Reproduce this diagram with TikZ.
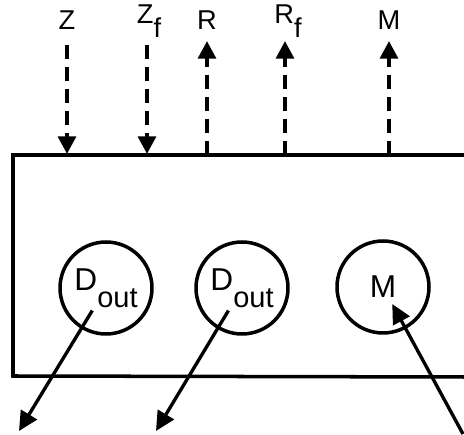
\documentclass[tikz,border=0pt]{standalone}
\usepackage{fontspec}
\setmainfont{Liberation Sans}
\usetikzlibrary{arrows.meta}
\newcommand{\lo}[1]{\raisebox{-1ex}{#1}}
\tikzset{
  sig/.style={font=\fontsize{15.5}{18}\selectfont, inner sep=1pt},
  port/.style={circle, draw, line width=2pt, minimum size=1.84cm, inner sep=0pt, font=\fontsize{18}{21}\selectfont},
  dtra/.style={-{Triangle[length=10pt, width=10pt]}, line width=2.3pt, dash pattern=on 8pt off 4.5pt},
  stra/.style={-{Triangle[length=11pt, width=10.5pt]}, line width=1.9pt},
  frame/.style={line width=2pt}
}

\begin{document}
\begin{tikzpicture}[x=0.02cm, y=-0.02cm]
		\useasboundingbox (0,0) rectangle (464,435);
		% the box, open to the right
		\draw[frame] (464,155) -- (13,155) -- (13,376) -- (464,377);
		% signals on the top edge
		\node[sig] (z)  at (67,20)  {Z};
		\node[sig] (zf) at (149,21) {Z\lo{f}};
		\node[sig] (r)  at (207,20) {R};
		\node[sig] (rf) at (288,21) {R\lo{f}};
		\node[sig] (mt) at (389,20) {M};
		\coordinate (z0)  at (67,45);   \coordinate (z1)  at (67,154);
		\coordinate (zf0) at (147,45);  \coordinate (zf1) at (147,154);
		\coordinate (r0)  at (207,155); \coordinate (r1)  at (207,41);
		\coordinate (rf0) at (285,155); \coordinate (rf1) at (285,41);
		\coordinate (m0)  at (389,155); \coordinate (m1)  at (389,41);
		\draw[dtra] (z0) -- (z1);
		\draw[dtra] (zf0) -- (zf1);
		\draw[dtra] (r0) -- (r1);
		\draw[dtra] (rf0) -- (rf1);
		\draw[dtra] (m0) -- (m1);
		% ports inside
		\node[port] (d1) at (106,288) {D\lo{\fontsize{16.5}{19}\selectfont out}};
		\node[port] (d2) at (242,288) {D\lo{\fontsize{16.5}{19}\selectfont out}};
		\node[port] (mp) at (383,287) {M};
		\coordinate (o1) at (19,431);
		\coordinate (o2) at (156,431);
		\coordinate (i3) at (463,434);
		\draw[stra, shorten <=15pt] (d1.center) -- (o1);
		\draw[stra, shorten <=15pt] (d2.center) -- (o2);
		\draw[stra, shorten >=11pt] (i3) -- (mp.center);
	\end{tikzpicture}
\end{document}
